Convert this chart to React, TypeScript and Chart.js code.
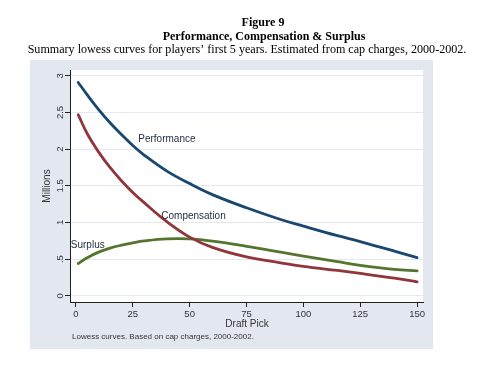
import React, { useEffect, useRef } from "react";
import { Chart, registerables } from "chart.js";

Chart.register(...registerables);

const picks = [1, 5, 10, 15, 20, 25, 30, 40, 50, 60, 75, 90, 100, 115, 125, 140, 150];
const performance = [2.91, 2.74, 2.54, 2.36, 2.2, 2.05, 1.92, 1.7, 1.53, 1.38, 1.2, 1.04, 0.95, 0.82, 0.74, 0.61, 0.52];
const compensation = [2.47, 2.21, 1.96, 1.75, 1.57, 1.41, 1.27, 1.01, 0.8, 0.66, 0.53, 0.45, 0.4, 0.345, 0.305, 0.24, 0.19];
const surplus = [0.44, 0.52, 0.595, 0.65, 0.69, 0.722, 0.748, 0.776, 0.775, 0.745, 0.675, 0.595, 0.54, 0.465, 0.415, 0.36, 0.34];

const xTicks = [0, 25, 50, 75, 100, 125, 150];
const yTicks = [0, 0.5, 1, 1.5, 2, 2.5, 3];
const yTickLabels = ["0", ".5", "1", "1.5", "2", "2.5", "3"];

const seriesNames = ["Performance", "Compensation", "Surplus"];
const seriesColors = ["#1a476f", "#90353b", "#55752f"];
const labelX = [40, 51.7, 5.2];
const labelY = [2.13, 1.09, 0.69];

const title1 = "Figure 9";
const title2 = "Performance, Compensation & Surplus";
const subtitle = "Summary lowess curves for players\u2019 first 5 years. Estimated from cap charges, 2000-2002.";
const yTitle = "Millions";
const xTitle = "Draft Pick";
const note = "Lowess curves. Based on cap charges, 2000-2002.";

const SANS = "'Liberation Sans', Arial, sans-serif";
const SERIF = "'Liberation Serif', 'Times New Roman', serif";

export default function App() {
  const ref = useRef<HTMLCanvasElement>(null);

  useEffect(() => {
    const canvas = ref.current!;
    const mk = (vals: number[]) => picks.map((p, i) => ({ x: p, y: vals[i] }));

    const deco = {
      id: "deco",
      beforeDraw(chart: any) {
        const { ctx, chartArea } = chart;
        ctx.save();
        ctx.fillStyle = "#ffffff";
        ctx.fillRect(0, 0, chart.width, chart.height);
        ctx.fillStyle = "#e3e7f0";
        ctx.fillRect(30, 60, 403, 289);
        ctx.fillStyle = "#ffffff";
        ctx.fillRect(chartArea.left, chartArea.top, chartArea.right - chartArea.left, chartArea.bottom - chartArea.top);
        ctx.restore();
      },
      afterDraw(chart: any) {
        const { ctx } = chart;
        const xs = chart.scales.x;
        const ys = chart.scales.y;
        ctx.save();
        ctx.fillStyle = "#000";
        ctx.textAlign = "center";
        ctx.textBaseline = "middle";
        ctx.font = `bold 12px ${SERIF}`;
        ctx.fillText(title1, 263, 23);
        ctx.fillText(title2, 264, 37);
        ctx.font = `12.1px ${SERIF}`;
        ctx.fillText(subtitle, 247, 50);

        ctx.fillStyle = "#333";
        ctx.font = `9.5px ${SANS}`;
        xTicks.forEach((v) => {
          ctx.fillText(String(v), xs.getPixelForValue(v), 314);
        });
        yTicks.forEach((v, i) => {
          ctx.save();
          ctx.translate(60, ys.getPixelForValue(v));
          ctx.rotate(-Math.PI / 2);
          ctx.fillText(yTickLabels[i], 0, 0);
          ctx.restore();
        });
        ctx.font = `10px ${SANS}`;
        ctx.fillText(xTitle, (xs.left + xs.right) / 2 + 0.5, 324);
        ctx.save();
        ctx.translate(47, (ys.top + ys.bottom) / 2);
        ctx.rotate(-Math.PI / 2);
        ctx.fillText(yTitle, 0, 0);
        ctx.restore();
        ctx.textAlign = "left";
        ctx.font = `8px ${SANS}`;
        ctx.fillText(note, 72, 337);
        ctx.textAlign = "center";
        ctx.font = `10px ${SANS}`;
        ctx.fillStyle = "#1e2b3c";
        seriesNames.forEach((n, i) => {
          ctx.fillText(n, xs.getPixelForValue(labelX[i]), ys.getPixelForValue(labelY[i]));
        });
        ctx.restore();
      },
    };

    const chart = new Chart(canvas, {
      type: "scatter",
      data: {
        datasets: [performance, compensation, surplus].map((vals, i) => ({
          label: seriesNames[i],
          data: mk(vals),
          showLine: true,
          borderColor: seriesColors[i],
          backgroundColor: seriesColors[i],
          borderWidth: 2.8,
          pointRadius: 0,
          tension: 0.4,
          borderCapStyle: "round" as const,
          fill: false,
        })),
      },
      options: {
        responsive: false,
        animation: false,
        events: [],
        layout: { padding: { left: 30, top: 70, right: 77, bottom: 29 } },
        plugins: { legend: { display: false }, tooltip: { enabled: false }, title: { display: false } },
        scales: {
          x: {
            type: "linear",
            min: -2.6,
            max: 152.6,
            afterBuildTicks: (s: any) => {
              s.ticks = xTicks.map((v) => ({ value: v }));
            },
            afterFit: (s: any) => {
              s.height = 48;
            },
            ticks: { display: false },
            grid: { drawOnChartArea: false, drawTicks: true, tickLength: 5, tickColor: "#222", tickWidth: 1 },
            border: { display: true, color: "#222", width: 1 },
          },
          y: {
            type: "linear",
            min: -0.085,
            max: 3.08,
            afterBuildTicks: (s: any) => {
              s.ticks = yTicks.map((v) => ({ value: v }));
            },
            afterFit: (s: any) => {
              s.width = 40;
            },
            ticks: { display: false },
            grid: { color: "#e4e9f1", lineWidth: 1, drawTicks: true, tickLength: 5, tickColor: "#222", tickWidth: 1 },
            border: { display: true, color: "#222", width: 1 },
          },
        },
      },
      plugins: [deco],
    });
    return () => chart.destroy();
  }, []);

  return (
    <div style={{ position: "fixed", left: 0, top: 0, width: 500, height: 379 }}>
      <canvas ref={ref} width={500} height={379} style={{ width: 500, height: 379, display: "block" }} />
    </div>
  );
}
